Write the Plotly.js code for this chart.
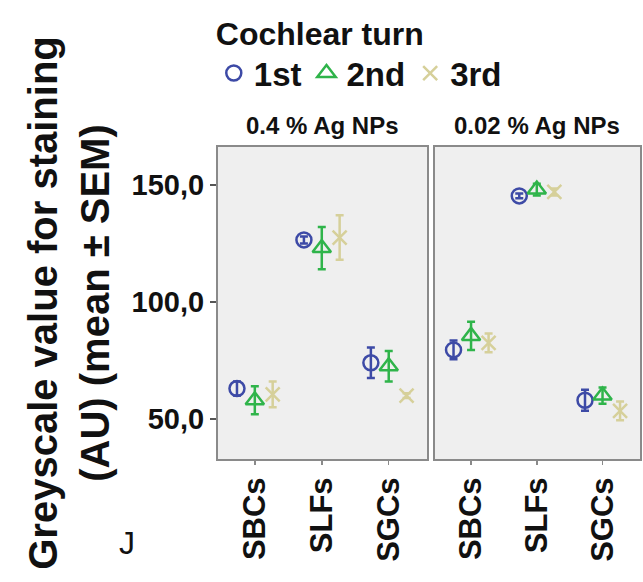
<!DOCTYPE html>
<html>
<head>
<meta charset="utf-8">
<script src="https://cdn.plot.ly/plotly-3.0.1.min.js"></script>
<style>html,body{margin:0;padding:0;background:#fff;}#chart{width:643px;height:582px;}</style>
</head>
<body>
<div id="chart"></div>
<script>
// Categories and labels
const categories = ['SBCs', 'SLFs', 'SGCs'];
const panelTitles = ['0.4 % Ag NPs', '0.02 % Ag NPs'];
const seriesNames = ['1st', '2nd', '3rd'];
const yTickVals = [50, 100, 150];
const yTickText = ['50,0', '100,0', '150,0'];

// 0.4 % Ag NPs panel: means and SEM
const first04 = [63, 126.5, 74];
const first04Err = [3, 1.5, 6.5];
const second04 = [58, 123, 72.5];
const second04Err = [6, 9, 6.5];
const third04 = [60.5, 127.5, 60];
const third04Err = [5.5, 9.5, 1];

// 0.02 % Ag NPs panel: means and SEM
const first002 = [79.5, 145.3, 58];
const first002Err = [4, 1, 4.5];
const second002 = [85.5, 148, 60];
const second002Err = [6, 2.5, 3.5];
const third002 = [82.5, 147, 53.5];
const third002Err = [4, 1.5, 4];

const colors = ['#3d4aa6', '#2fb44a', '#d6d09a'];
const symbols = ['circle-open', 'triangle-up-open', 'x-thin-open'];
const sizes = [15, 16, 14];

const panelData = [
  [[first04, first04Err], [second04, second04Err], [third04, third04Err]],
  [[first002, first002Err], [second002, second002Err], [third002, third002Err]]
];

const traces = [];
panelData.forEach((panel, p) => {
  panel.forEach((s, i) => {
    traces.push({
      type: 'scatter',
      mode: 'markers',
      name: seriesNames[i],
      x: categories,
      y: s[0],
      xaxis: p === 0 ? 'x' : 'x2',
      yaxis: p === 0 ? 'y' : 'y2',
      offsetgroup: seriesNames[i],
      legendgroup: seriesNames[i],
      showlegend: p === 0,
      marker: {symbol: symbols[i], size: sizes[i], color: colors[i], line: {width: 2.5, color: colors[i]}},
      error_y: {type: 'data', array: s[1], visible: true, color: colors[i], thickness: 2.5, width: 4}
    });
  });
});

const font = {family: 'Liberation Sans, Arial, sans-serif', color: '#111', weight: 'bold'};
const yRange = [32.9, 166.2];

function xAxis(domain, anchor) {
  return {
    domain: domain, anchor: anchor, type: 'category',
    categoryorder: 'array', categoryarray: categories,
    range: [-0.55, 2.57],
    showline: true, mirror: true, linecolor: '#8a8a8a', linewidth: 2,
    showgrid: false, zeroline: false,
    ticks: 'outside', ticklen: 4, tickcolor: '#8a8a8a', tickwidth: 1.5,
    tickangle: -90,
    tickfont: Object.assign({}, font, {size: 31})
  };
}

const layout = {
  width: 643, height: 582,
  margin: {l: 218, r: 3, t: 147, b: 123},
  paper_bgcolor: '#ffffff',
  plot_bgcolor: '#efefef',
  scattermode: 'group',
  scattergap: 0.2,
  showlegend: true,
  legend: {
    orientation: 'h', x: -0.01, xanchor: 'left', y: 1.46, yanchor: 'top',
    title: {text: 'Cochlear turn', side: 'top', font: Object.assign({}, font, {size: 32})},
    font: Object.assign({}, font, {size: 33}),
    bgcolor: 'rgba(0,0,0,0)', itemwidth: 30, tracegroupgap: 0
  },
  xaxis: xAxis([0, 0.495], 'y'),
  xaxis2: xAxis([0.514, 1], 'y2'),
  yaxis: {
    domain: [0, 1], anchor: 'x', range: yRange,
    tickvals: yTickVals, ticktext: yTickText,
    showline: true, mirror: true, linecolor: '#8a8a8a', linewidth: 2,
    showgrid: false, zeroline: false,
    ticks: 'outside', ticklen: 6, tickcolor: '#555', tickwidth: 1.5,
    tickfont: Object.assign({}, font, {size: 29}),
    title: {text: 'Greyscale value for staining<br>(AU) (mean ± SEM)', standoff: 10,
            font: Object.assign({}, font, {size: 40})}
  },
  yaxis2: {
    domain: [0, 1], anchor: 'x2', range: yRange, matches: 'y',
    tickvals: yTickVals, showticklabels: false,
    showline: true, mirror: true, linecolor: '#8a8a8a', linewidth: 2,
    showgrid: false, zeroline: false, ticks: ''
  },
  annotations: [
    {text: panelTitles[0], xref: 'x domain', yref: 'y domain', x: 0.5, y: 1.07, xanchor: 'center', yanchor: 'middle',
     showarrow: false, font: Object.assign({}, font, {size: 24})},
    {text: panelTitles[1], xref: 'x2 domain', yref: 'y2 domain', x: 0.5, y: 1.07, xanchor: 'center', yanchor: 'middle',
     showarrow: false, font: Object.assign({}, font, {size: 24})},
    {text: 'J', xref: 'paper', yref: 'paper', x: -0.215, y: -0.27, xanchor: 'center', yanchor: 'middle',
     showarrow: false, font: {family: 'Liberation Sans, Arial, sans-serif', size: 32, color: '#111'}}
  ]
};

Plotly.newPlot('chart', traces, layout, {displayModeBar: false, staticPlot: true});
</script>
</body>
</html>
